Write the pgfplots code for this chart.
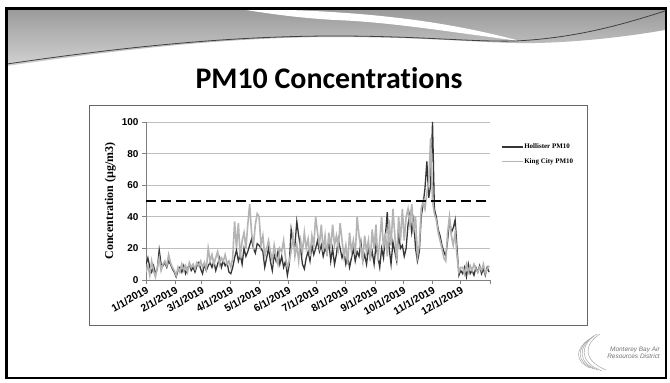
\documentclass[border=0pt]{standalone}
\usepackage{pgfplots}
\pgfplotsset{compat=1.18}
\usepackage{fontspec}
\setmainfont{Liberation Sans}
\newfontfamily\serif{Liberation Serif}
\newfontfamily\titlefont[Ligatures={NoCommon}]{Carlito}
\definecolor{hol}{HTML}{363636}
\definecolor{kc}{HTML}{B4B4B4}
\definecolor{hdrTop}{HTML}{9A9A9A}
\definecolor{hdrBot}{HTML}{D2D2D2}

\pgfplotstableread{
x y
0 10
2 14
4 8
6 5
8 9
10 4
12 7
14 19
16 10
18 9
20 11
22 8
24 12
26 10
28 7
30 5
32 2
34 6
36 8
38 5
40 9
42 4
44 7
46 10
48 6
50 8
52 5
54 9
56 11
58 7
60 4
62 10
64 6
66 9
68 11
70 8
72 12
74 6
76 10
78 14
80 8
82 12
84 9
86 11
88 5
90 4
92 8
94 14
96 19
98 12
100 16
102 10
104 20
106 15
108 18
110 22
112 26
114 20
116 17
118 23
120 22
122 20
124 18
126 8
128 14
130 20
132 12
134 6
136 16
138 12
140 18
142 10
144 15
146 8
148 12
150 3
152 10
154 32
156 24
158 22
160 37
162 28
164 20
166 10
168 7
170 14
172 18
174 12
176 22
178 16
180 20
182 25
184 18
186 22
188 15
190 20
192 17
194 24
196 12
198 20
200 10
202 16
204 26
206 20
208 14
210 18
212 10
214 15
216 8
218 14
220 20
222 12
224 18
226 15
228 24
230 12
232 16
234 10
236 20
238 14
240 18
242 10
244 22
246 15
248 8
250 20
252 14
254 28
256 43
258 20
260 10
262 24
264 18
266 12
268 30
270 20
272 22
274 15
276 20
278 35
280 42
282 30
284 38
286 20
288 12
290 18
292 40
294 48
296 58
298 75
300 52
302 60
304 100
306 45
308 40
310 32
312 28
314 22
316 18
318 15
320 25
322 38
324 30
326 33
328 38
330 20
332 3
334 6
336 4
338 8
340 2
342 10
344 4
346 6
348 3
350 8
352 5
354 9
356 4
358 7
360 3
362 8
364 5
}\hollister

\pgfplotstableread{
x y
0 5
2 9
4 3
6 12
8 6
10 2
12 8
14 14
16 6
18 10
20 12
22 9
24 16
26 11
28 8
30 6
32 3
34 8
36 5
38 10
40 6
42 9
44 5
46 11
48 8
50 10
52 7
54 11
56 9
58 12
60 8
62 11
64 7
66 20
68 12
70 16
72 10
74 14
76 18
78 10
80 14
82 12
84 16
86 10
88 12
90 8
92 14
94 37
96 20
98 36
100 14
102 25
104 30
106 20
108 35
110 48
112 30
114 22
116 35
118 42
120 40
122 22
124 28
126 15
128 20
130 25
132 18
134 12
136 22
138 15
140 10
142 20
144 18
146 25
148 14
150 8
152 12
154 18
156 28
158 15
160 22
162 12
164 25
166 18
168 30
170 20
172 26
174 15
176 28
178 22
180 40
182 30
184 22
186 35
188 18
190 28
192 15
194 30
196 20
198 35
200 22
202 28
204 20
206 36
208 25
210 15
212 22
214 10
216 30
218 18
220 25
222 16
224 40
226 28
228 20
230 12
232 28
234 18
236 25
238 12
240 32
242 20
244 35
246 12
248 25
250 40
252 20
254 30
256 15
258 38
260 22
262 45
264 28
266 12
268 40
270 25
272 45
274 25
276 40
278 45
280 35
282 48
284 30
286 40
288 15
290 22
292 45
294 50
296 45
298 55
300 62
302 90
304 50
306 42
308 38
310 30
312 25
314 20
316 14
318 12
320 30
322 40
324 28
326 22
328 30
330 15
332 5
334 8
336 8
338 4
340 10
342 5
344 9
346 6
348 10
350 7
352 5
354 8
356 6
358 10
360 4
362 7
364 9
}\kingcity

\begin{document}
\begin{tikzpicture}
\begin{scope}[x=1bp,y=1bp]
\useasboundingbox (0,0) rectangle (670,382);
\fill[white] (0,0) rectangle (670,382);
% header swoosh
\shade[top color=hdrTop, bottom color=hdrBot] (7,373) -- (665,373) -- (665,352) .. controls (620,344) and (560,338) .. (515,339) .. controls (470,340) and (420,345) .. (335,345) .. controls (250,345) and (150,337) .. (7,316) -- cycle;
\fill[white] (240,373) .. controls (380,372) and (460,357) .. (520,341) .. controls (450,350) and (390,360) .. (335,362) .. controls (300,364) and (270,368) .. (240,373) -- cycle;
\draw[line width=0.8, black!75] (7,318) .. controls (150,339) and (250,346) .. (335,346) .. controls (420,346) and (470,340) .. (515,341) .. controls (580,344) and (630,360) .. (665,371);
% slide border
\draw[line width=2.5] (6.5,4) rectangle (666,373.5);
% title
\node[anchor=base, font=\titlefont\bfseries\fontsize{30}{36}\selectfont] at (329,294) {PM10 Concentrations};
% chart box
\draw[black!60, line width=1, fill=white] (89,57) rectangle (587,277);
% logo
\begin{scope}[black!35, line width=0.5]
\draw (597,48) .. controls (580,38) and (578,20) .. (602,11);
\draw (594,46) .. controls (578,36) and (577,19) .. (598,12);
\draw (591,44) .. controls (576,34) and (576,20) .. (594,13);
\draw (600,48) .. controls (584,38) and (582,22) .. (606,12);
\draw (588,42) .. controls (575,32) and (575,21) .. (590,14);
\end{scope}
\node[anchor=east, align=right, text=black!55, font=\itshape\fontsize{6.5}{7}\selectfont, inner sep=0pt] at (660,29.5) {Monterey Bay Air\\Resources District};
\end{scope}
\begin{axis}[
  at={(146bp,102bp)}, anchor=south west,
  scale only axis, width=344bp, height=158bp,
  xmin=0, xmax=365, ymin=0, ymax=100,
  axis x line*=bottom, axis y line*=left,
  axis line style={black!50, line width=0.8bp},
  xtick={0,31,59,90,120,151,181,212,243,273,304,334,365},
  xticklabels={1/1/2019,2/1/2019,3/1/2019,4/1/2019,5/1/2019,6/1/2019,7/1/2019,8/1/2019,9/1/2019,10/1/2019,11/1/2019,12/1/2019,{}},
  ytick={0,20,40,60,80,100},
  tick align=outside, major tick length=4bp,
  tick style={black!50, line width=0.8bp},
  ymajorgrids, grid style={black!25, line width=0.8bp},
  /pgf/number format/assume math mode=true,
  xticklabel style={rotate=30, anchor=north east, font=\bfseries\fontsize{10.5}{12}\selectfont, inner sep=1bp},
  yticklabel style={font=\bfseries\fontsize{10}{12}\selectfont},
  ylabel={Concentration (µg/m3)},
  ylabel style={font=\serif\bfseries\fontsize{12}{14}\selectfont, at={(axis description cs:-0.104,0.5)}, anchor=center},
  legend style={at={(axis description cs:1.032,0.795)}, anchor=west, draw=none, fill=none,
    font=\serif\bfseries\fontsize{7}{8}\selectfont, inner sep=0pt, row sep=7bp,
    nodes={inner sep=0.5bp, text height=5bp, text depth=1.5bp}},
  legend cell align=left,
  legend image code/.code={\draw[#1] (0bp,0bp) -- (21bp,0bp);},
]
\addplot[hol, line width=1.3bp] table[x=x,y=y] {\hollister};
\addlegendentry{Hollister PM10}
\addplot[kc, line width=1.6bp] table[x=x,y=y] {\kingcity};
\addlegendentry{King City PM10}
\addplot[black, line width=2.5bp, dash pattern=on 10bp off 5bp, forget plot] coordinates {(0,50) (365,50)};
\node[anchor=west, align=left, font=\serif\bfseries\fontsize{8}{10}\selectfont, inner sep=0pt] at (axis description cs:1.023,0.475) {$\leftarrow$State Standard\\\phantom{$\leftarrow$}(50µg/m3)};
\end{axis}
\end{tikzpicture}
\end{document}
